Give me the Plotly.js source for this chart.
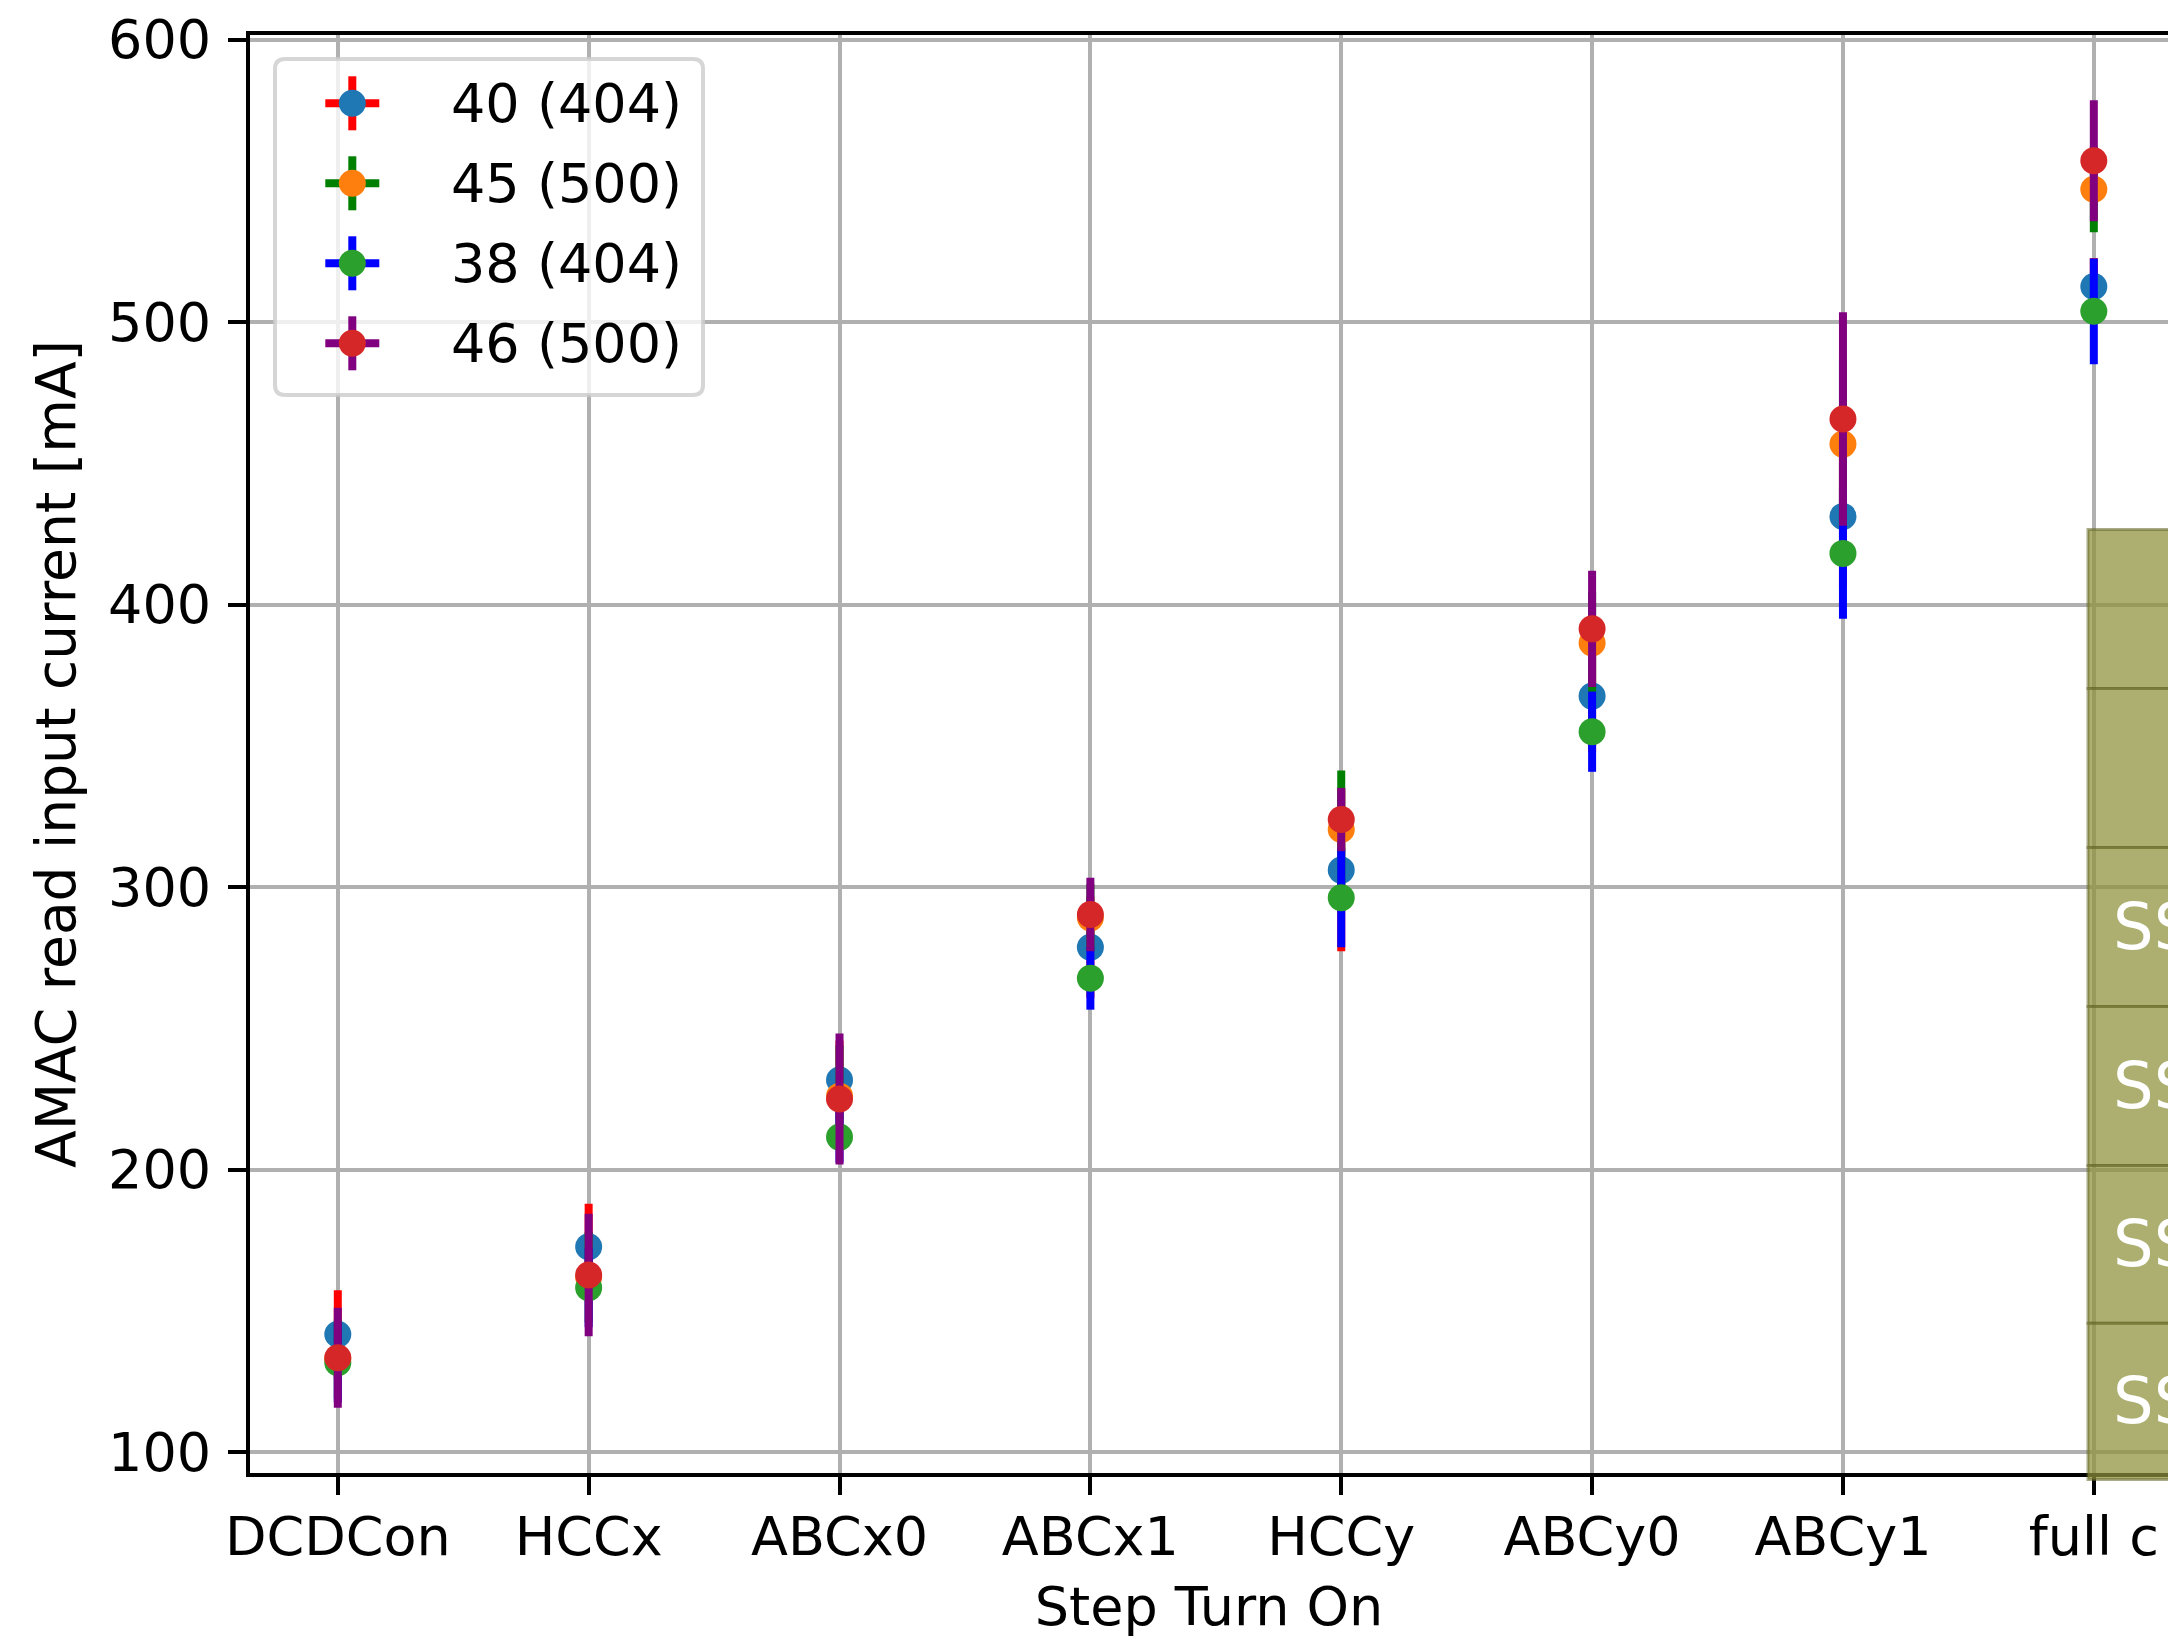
<!DOCTYPE html>
<html>
<head>
<meta charset="utf-8">
<script src="https://cdn.plot.ly/plotly-3.0.1.min.js"></script>
<style>
html,body{margin:0;padding:0;overflow:hidden;background:#fff;}
#chart{width:2168px;height:1638px;}
</style>
</head>
<body>
<div id="chart"></div>
<script>
// ---- data ----
const categories = ['DCDCon','HCCx','ABCx0','ABCx1','HCCy','ABCy0','ABCy1','full c'];

const seriesNames = ['40 (404)','45 (500)','38 (404)','46 (500)'];

const s40 = [141.7, 172.7, 231.7, 278.7, 306.0, 367.6, 431.2, 512.6];
const s40err = [15.6, 15.2, 14.0, 18.0, 28.7, 20.0, 25.0, 10.0];

const s45 = [133.0, 162.0, 226.0, 289.1, 320.4, 386.4, 456.8, 547.0];
const s45err = [14.0, 16.0, 18.0, 12.0, 20.9, 18.0, 30.0, 15.2];

const s38 = [131.6, 158.2, 211.5, 267.7, 296.2, 355.0, 418.1, 503.8];
const s38err = [14.0, 14.0, 9.0, 11.1, 17.5, 14.2, 23.1, 18.7];

const s46 = [133.4, 162.7, 225.0, 290.3, 323.9, 391.4, 465.7, 557.1];
const s46err = [17.7, 21.7, 23.2, 13.0, 11.2, 20.6, 37.8, 21.4];

const tableRows = ['', '', 'SS', 'SS', 'SS', 'SS'];

// ---- styles ----
const markerColors = ['#1f77b4','#ff7f0e','#2ca02c','#d62728'];
const errorColors = ['red','green','blue','purple'];
const values = [s40, s45, s38, s46];
const errors = [s40err, s45err, s38err, s46err];

const FONT = 'DejaVu Sans, Verdana, sans-serif';
const FS = 54;
const W = 2168, H = 1638, ML = 250, MR = 0, MT = 35, MB = 165;
const PW = W - ML - MR, PH = H - MT - MB;
const px = x => (x - ML) / PW;
const py = y => (H - MB - y) / PH;

const traces = values.map((v, i) => ({
  type: 'scatter',
  mode: 'markers',
  name: seriesNames[i],
  x: categories,
  y: v,
  marker: {color: markerColors[i], size: 27, line: {width: 0}},
  error_y: {type: 'data', array: errors[i], visible: true, color: errorColors[i], thickness: 8, width: 0},
  cliponaxis: false
}));

const shapes = [];
const annotations = [];

// table (semi-transparent cells over the plot)
const rowEdges = [529.6, 688.6, 847.6, 1006.6, 1165.6, 1323.3, 1479.5];
for (let r = 0; r < tableRows.length; r++) {
  shapes.push({
    type: 'rect', xref: 'paper', yref: 'paper', layer: 'above',
    x0: px(2088), x1: px(2600), y0: py(rowEdges[r + 1]), y1: py(rowEdges[r]),
    fillcolor: 'rgba(141,146,59,0.73)',
    line: {color: 'rgba(100,102,40,0.55)', width: 3}
  });
  if (tableRows[r]) {
    annotations.push({
      xref: 'paper', yref: 'paper', x: px(2112), y: py((rowEdges[r] + rowEdges[r + 1]) / 2),
      xanchor: 'left', yanchor: 'middle', showarrow: false, text: tableRows[r],
      font: {family: FONT, size: 64, color: '#ffffff'}, borderpad: 0
    });
  }
}

// legend box (rounded)
const lx0 = 275, lx1 = 703, ly0 = 59, ly1 = 395, rad = 10;
const P = (x, y) => px(x) + ',' + py(y);
const legendPath =
  'M' + P(lx0 + rad, ly0) + ' L' + P(lx1 - rad, ly0) + ' Q' + P(lx1, ly0) + ' ' + P(lx1, ly0 + rad) +
  ' L' + P(lx1, ly1 - rad) + ' Q' + P(lx1, ly1) + ' ' + P(lx1 - rad, ly1) +
  ' L' + P(lx0 + rad, ly1) + ' Q' + P(lx0, ly1) + ' ' + P(lx0, ly1 - rad) +
  ' L' + P(lx0, ly0 + rad) + ' Q' + P(lx0, ly0) + ' ' + P(lx0 + rad, ly0) + ' Z';
shapes.push({
  type: 'path', xref: 'paper', yref: 'paper', layer: 'above', path: legendPath,
  fillcolor: 'rgba(255,255,255,0.8)', line: {color: 'rgba(204,204,204,0.8)', width: 4}
});
const cx = 352.3, arm = 27, mr = 13.5;
seriesNames.forEach((nm, i) => {
  const cy = 103.3 + i * 80;
  shapes.push({type: 'line', xref: 'paper', yref: 'paper', layer: 'above',
    x0: px(cx - arm), x1: px(cx + arm), y0: py(cy), y1: py(cy), line: {color: errorColors[i], width: 8}});
  shapes.push({type: 'line', xref: 'paper', yref: 'paper', layer: 'above',
    x0: px(cx), x1: px(cx), y0: py(cy - arm), y1: py(cy + arm), line: {color: errorColors[i], width: 8}});
  shapes.push({type: 'circle', xref: 'paper', yref: 'paper', layer: 'above',
    x0: px(cx - mr), x1: px(cx + mr), y0: py(cy + mr), y1: py(cy - mr),
    fillcolor: markerColors[i], line: {width: 0}});
  annotations.push({xref: 'paper', yref: 'paper', x: px(450), y: py(cy), xanchor: 'left', yanchor: 'middle',
    showarrow: false, text: nm, font: {family: FONT, size: FS, color: '#000'}, borderpad: 0});
});

const layout = {
  width: W, height: H,
  margin: {l: ML, r: MR, t: MT, b: MB, pad: 0},
  paper_bgcolor: '#ffffff', plot_bgcolor: '#ffffff',
  showlegend: false,
  font: {family: FONT, size: FS, color: '#000'},
  xaxis: {
    type: 'category',
    range: [-0.35, -0.35 + PW / 250.86],
    showgrid: true, gridcolor: '#b0b0b0', gridwidth: 4,
    showline: true, linecolor: '#000', linewidth: 4, mirror: true,
    ticks: 'outside', ticklen: 18, tickwidth: 4, tickcolor: '#000',
    tickfont: {family: FONT, size: FS, color: '#000'},
    ticklabelstandoff: -5,
    zeroline: false, automargin: false,
    title: {text: 'Step Turn On', font: {family: FONT, size: FS, color: '#000'}, standoff: 25}
  },
  yaxis: {
    range: [92.6, 601.6],
    tickvals: [100, 200, 300, 400, 500, 600],
    showgrid: true, gridcolor: '#b0b0b0', gridwidth: 4,
    showline: true, linecolor: '#000', linewidth: 4, mirror: false,
    ticks: 'outside', ticklen: 18, tickwidth: 4, tickcolor: '#000',
    tickfont: {family: FONT, size: FS, color: '#000'},
    ticklabelstandoff: 6,
    zeroline: false, automargin: false,
    title: {text: 'AMAC read input current [mA]', font: {family: FONT, size: 55, color: '#000'}, standoff: 16}
  },
  shapes: shapes,
  annotations: annotations
};

Plotly.newPlot('chart', traces, layout, {displayModeBar: false, staticPlot: true});
</script>
</body>
</html>
